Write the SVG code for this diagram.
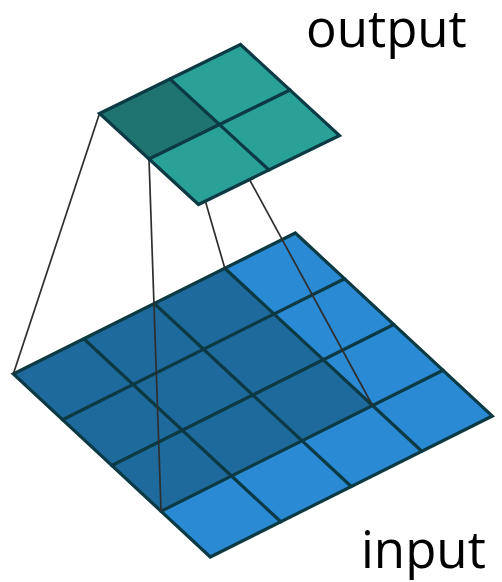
<svg xmlns="http://www.w3.org/2000/svg" width="502" height="582" viewBox="0 0 502 582">
<style>
.grid{fill:none;stroke:#0c3a44;stroke-width:3.2;stroke-linejoin:miter;stroke-linecap:round}
.conn{stroke:#2e2e2e;stroke-width:1.7;fill:none}
.lbl{font-family:"Open Sans","DejaVu Sans",sans-serif;font-size:51px;fill:#000}
</style>
<rect width="502" height="582" fill="#fff"/>
<g id="input">
<polygon points="13.3,374 295.3,233 492.3,416 210.3,557" fill="#2a8ad4"/>
<polygon points="13.3,374 224.8,268.25 372.55,405.5 161.05,511.25" fill="#1e6a9c"/>
<path class="grid" d="M83.8,338.75L280.8,521.75M154.3,303.5L351.3,486.5M224.8,268.25L421.8,451.25M62.55,419.75L344.55,278.75M111.8,465.5L393.8,324.5M161.05,511.25L443.05,370.25"/>
<polygon class="grid" points="13.3,374 295.3,233 492.3,416 210.3,557"/>
</g>
<g id="connectors">
<line class="conn" x1="99.5" y1="113.5" x2="13.3" y2="374"/>
<line class="conn" x1="149" y1="159" x2="161.05" y2="511.25"/>
<line class="conn" x1="170" y1="79" x2="224.8" y2="268.25"/>
<line class="conn" x1="219.5" y1="124.5" x2="372.55" y2="405.5"/>
</g>
<g id="output">
<polygon points="99.5,113.5 240.5,44.5 339.5,135.5 198.5,204.5" fill="#2aa197"/>
<polygon points="99.5,113.5 170,79 219.5,124.5 149,159" fill="#1f7470"/>
<path class="grid" d="M170,79L269,170M149,159L290,90"/>
<polygon class="grid" points="99.5,113.5 240.5,44.5 339.5,135.5 198.5,204.5"/>
</g>
<text class="lbl" x="306" y="47">output</text>
<text class="lbl" x="361" y="568">input</text>
</svg>
